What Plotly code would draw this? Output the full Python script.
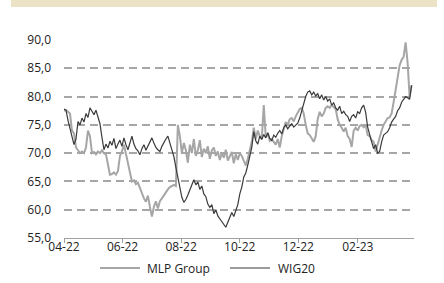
import pandas as pd
import plotly.graph_objects as go

start_date = "2022-04-01"
end_date = "2023-03-29"

mlp_group = [77.5, 77.6, 77.3, 77.0, 74.0, 73.5, 71.0, 70.5, 70.0, 70.3, 70.0, 71.0, 74.0, 73.0, 70.0, 70.2, 69.8, 70.3, 70.0, 70.5,
             70.0, 69.8, 68.0, 66.2, 66.3, 66.6, 66.2, 66.8, 69.5, 70.3, 71.5, 70.0, 68.4, 66.5, 65.0, 65.2, 64.5, 64.8, 63.8, 63.0,
             62.0, 61.4, 62.5, 60.5, 58.8, 60.5, 61.5, 60.2, 61.5, 62.0, 62.6, 63.0, 63.6, 64.0, 64.2, 64.4, 64.2, 75.0, 73.0, 70.0,
             71.8, 70.5, 68.3, 71.5, 70.0, 72.5, 69.5, 70.5, 72.3, 69.3, 70.8, 70.0, 71.2, 69.0, 70.5, 71.0, 69.5, 70.3, 68.8, 70.0,
             69.2, 70.6, 68.7, 69.5, 70.2, 68.2, 69.8, 68.8, 70.0, 69.5, 68.5, 67.8, 69.0, 70.5, 72.0, 74.5, 72.5, 74.0, 73.0, 72.5,
             78.5, 72.8, 73.5, 72.2, 72.5, 72.0, 71.5, 72.5, 71.0, 73.0, 74.5, 75.5, 75.0, 76.0, 76.2, 75.6, 76.5, 77.3, 77.8, 78.0,
             77.0, 75.0, 73.5, 73.2, 72.5, 72.0, 73.0, 76.0, 77.3, 76.5, 77.0, 78.0, 78.3, 78.0, 78.5, 78.2, 77.8, 76.0, 75.0, 74.5,
             73.8, 74.5, 73.0, 72.5, 71.1, 74.0, 74.5, 74.0, 74.8, 75.0, 74.6, 75.0, 73.2, 73.0, 72.3, 72.0, 70.3, 71.5, 73.0, 74.0,
             75.0, 75.5, 76.2, 76.3, 77.0, 79.0, 81.0, 83.0, 85.5, 86.5, 87.0, 89.6, 86.0, 80.0, 82.0]

wig20 = [77.8, 77.6, 75.8, 74.5, 73.2, 71.5, 72.5, 75.6, 75.0, 76.2, 75.5, 77.0, 76.3, 78.0, 77.4, 76.8, 77.6, 76.2, 75.2, 72.8,
         70.6, 71.6, 70.9, 72.1, 71.4, 72.6, 70.8, 71.6, 72.3, 71.2, 72.7, 71.5, 70.6, 71.8, 73.0, 71.6, 70.8, 70.4, 69.7, 70.8,
         71.5, 70.5, 71.2, 72.0, 72.7, 71.8, 71.0, 70.6, 70.3, 71.2, 72.0, 72.5, 73.0, 71.8, 70.3, 69.4, 67.5, 65.6, 64.0, 62.2,
         61.3, 61.8, 62.6, 63.5, 64.6, 65.3, 64.4, 64.9, 63.6, 64.2, 62.8, 62.3, 61.0, 60.4, 60.9, 59.3, 60.0, 58.9, 58.4, 57.9,
         57.5, 56.9, 57.8, 58.6, 59.5, 58.8, 59.8, 60.9, 62.8, 64.0, 65.8, 66.5, 67.9, 69.5, 71.0, 73.8, 72.2, 71.6, 73.0, 72.4,
         73.3, 72.7, 73.6, 72.6, 72.2, 73.2, 72.8, 73.5, 74.0, 73.4, 74.5, 75.0, 74.3, 74.8, 75.2, 74.6, 75.0, 75.3, 76.2, 77.5,
         78.8, 80.0, 80.8, 81.0, 80.3, 80.8, 80.1, 80.5, 79.6, 80.3, 79.4, 80.0, 79.2, 79.6, 78.5, 78.9, 78.0, 77.6, 78.3, 77.0,
         77.4, 76.8, 76.5, 75.6, 76.5, 76.8, 76.2, 77.3, 77.0, 78.0, 78.5, 77.2, 74.6, 73.5, 72.0, 70.8, 71.5, 70.0, 70.3, 72.0,
         73.2, 73.5, 73.8, 74.5, 75.5, 76.0, 76.5, 77.5, 78.0, 79.0, 79.5, 80.0, 79.8, 79.5, 82.0]

series_names = ["MLP Group", "WIG20"]

mlp_dates = pd.date_range(start_date, end_date, periods=len(mlp_group))
wig_dates = pd.date_range(start_date, end_date, periods=len(wig20))

FONT = "Open Sans"
MLP_COLOR = "#a6a6a6"
WIG_COLOR = "#3a3a3a"

fig = go.Figure()
fig.add_trace(go.Scatter(x=mlp_dates, y=mlp_group, mode="lines", name=series_names[0],
                         line=dict(color=MLP_COLOR, width=2), showlegend=False))
fig.add_trace(go.Scatter(x=wig_dates, y=wig20, mode="lines", name=series_names[1],
                         line=dict(color=WIG_COLOR, width=1.2), showlegend=False))

# plot area in pixels: left 64, right 414, top 40, bottom 238
def px_x(px):
    return (px - 64) / 350.0

def px_y(py):
    return (238 - py) / 198.0

legend_y = px_y(268)
shapes = [
    dict(type="rect", xref="paper", yref="paper",
         x0=px_x(11), x1=px_x(437), y0=px_y(7), y1=px_y(0),
         fillcolor="#ece2c6", line=dict(width=0), layer="below"),
    dict(type="line", xref="paper", yref="paper",
         x0=px_x(100), x1=px_x(140), y0=legend_y, y1=legend_y,
         line=dict(color=MLP_COLOR, width=2)),
    dict(type="line", xref="paper", yref="paper",
         x0=px_x(230), x1=px_x(270), y0=legend_y, y1=legend_y,
         line=dict(color=WIG_COLOR, width=1.2)),
]
annotations = [
    dict(text=series_names[0], xref="paper", yref="paper", x=px_x(145), y=legend_y,
         xanchor="left", yanchor="middle", showarrow=False,
         font=dict(family=FONT, size=12, color="#222222")),
    dict(text=series_names[1], xref="paper", yref="paper", x=px_x(276), y=legend_y,
         xanchor="left", yanchor="middle", showarrow=False,
         font=dict(family=FONT, size=12, color="#222222")),
]

fig.update_layout(
    width=444, height=283,
    margin=dict(l=64, r=30, t=40, b=45),
    paper_bgcolor="white", plot_bgcolor="white",
    separators=",.",
    font=dict(family=FONT, size=12, color="#222222"),
    showlegend=False,
    shapes=shapes,
    annotations=annotations,
)

fig.update_xaxes(
    type="date", range=["2022-04-01", "2023-03-31 12:00"],
    dtick="M2", tick0="2022-04-01", tickformat="%m-%y",
    showgrid=False, zeroline=False,
    showline=True, linecolor="#a0a0a0", linewidth=1,
    ticks="outside", ticklen=4, tickcolor="#a0a0a0",
    ticklabelstandoff=-6,
    tickfont=dict(family=FONT, size=12, color="#222222"),
)
fig.update_yaxes(
    range=[55, 90], dtick=5, tick0=55, tickformat=".1f",
    showgrid=True, gridcolor="#a6a6a6", gridwidth=1.5, griddash="8px,5px",
    zeroline=False, showline=False, ticks="",
    ticklabelstandoff=12,
    tickfont=dict(family=FONT, size=12, color="#222222"),
)

fig.write_html("out.html",
               config={"displayModeBar": False},
               post_script="document.body.style.margin='0';document.body.style.overflow='hidden';")
